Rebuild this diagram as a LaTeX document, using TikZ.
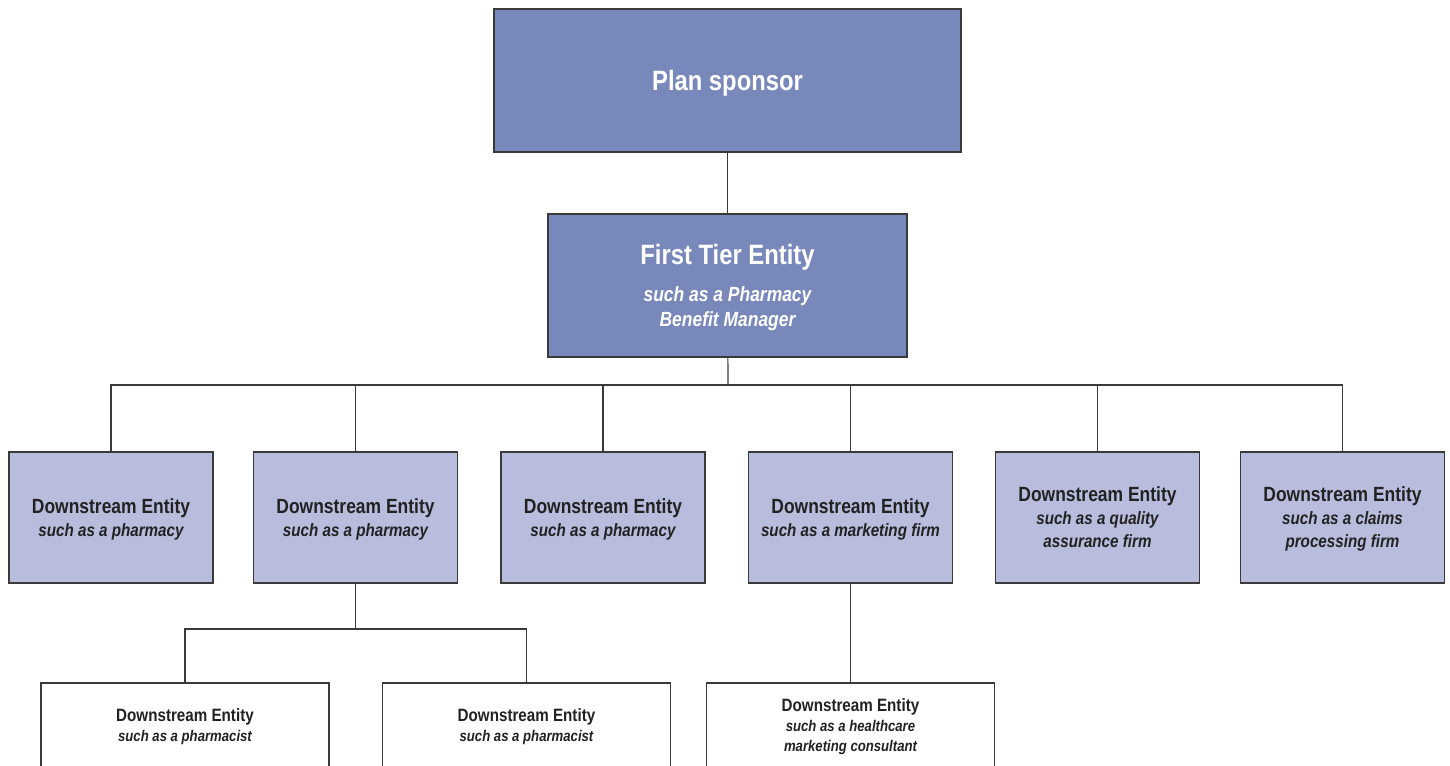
\documentclass[tikz,border=0pt]{standalone}
\usepackage{fontspec}
\setmainfont{Liberation Sans}[FakeStretch=0.85]
\usepackage{xcolor}
\usepackage{tikz}
\usetikzlibrary{positioning}

\definecolor{sponsorblue}{HTML}{7888BB}
\definecolor{entityblue}{HTML}{B8BCDD}
\definecolor{edgegray}{HTML}{3A3A3A}
\definecolor{ink}{HTML}{222222}

% subtitle lines
\newcommand{\pbm}[1]{{\fontsize{15.4}{18.75}\selectfont\bfseries\itshape #1}}
\newcommand{\eg}[1]{{\fontsize{13.4}{17.25}\selectfont\bfseries\itshape #1}}
\newcommand{\egs}[1]{{\fontsize{11.6}{15}\selectfont\bfseries\itshape #1}}

\begin{document}
\begin{tikzpicture}[
  x=0.75pt, y=-0.75pt,
  box/.style   = {draw=edgegray, line width=0.9pt, align=center, inner sep=0pt},
  lead/.style  = {box, fill=sponsorblue, text=white, minimum height=107.25pt,
                  text depth=0pt, font=\bfseries\fontsize{21}{18.75}\selectfont},
  tier/.style  = {box, fill=entityblue, text=ink, minimum width=153pt, text depth=0pt,
                  minimum height=98.25pt, font=\bfseries\fontsize{15.4}{17.25}\selectfont},
  leaf/.style  = {box, fill=white, text=ink, minimum width=216pt,
                  minimum height=66pt, font=\bfseries\fontsize{13.4}{15}\selectfont},
  link/.style  = {draw=edgegray, line width=0.9pt}
]

\useasboundingbox (0,0) rectangle (1450,766);
\clip (0,0) rectangle (1450,766);

\node[lead, minimum width=350.25pt] (sponsor) at (727.5,80.5) {Plan sponsor};
\node[lead, minimum width=269.25pt] (first) at (727.5,285.5)
  {First Tier Entity\\[8.6pt]\pbm{such as a Pharmacy}\\\pbm{Benefit Manager}};

\draw[link] (sponsor) -- (first);

% downstream row
\node[tier] (ds1) at (111,517.5)    {Downstream Entity\\\eg{such as a pharmacy}};
\node[tier] (ds2) at (355.5,517.5)  {Downstream Entity\\\eg{such as a pharmacy}};
\node[tier] (ds3) at (603,517.5)    {Downstream Entity\\\eg{such as a pharmacy}};
\node[tier] (ds4) at (850.5,517.5)  {Downstream Entity\\\eg{such as a marketing firm}};
\node[tier] (ds5) at (1097.5,517.5) {Downstream Entity\\\eg{such as a quality}\\\eg{assurance firm}};
\node[tier] (ds6) at (1342.5,517.5) {Downstream Entity\\\eg{such as a claims}\\\eg{processing firm}};

\coordinate (bus) at (728,385);
\draw[link] (first) -- (bus);
\draw[link] (bus) -| (ds1.north);
\draw[link] (bus) -| (ds2.north);
\draw[link] (bus) -| (ds3.north);
\draw[link] (bus) -| (ds4.north);
\draw[link] (bus) -| (ds5.north);
\draw[link] (bus) -| (ds6.north);

% lower tier
\node[leaf] (ph1) at (185,727)   {Downstream Entity\\\egs{such as a pharmacist}};
\node[leaf] (ph2) at (526.5,727) {Downstream Entity\\\egs{such as a pharmacist}};
\node[leaf] (mkt) at (850.5,727) {Downstream Entity\\\egs{such as a healthcare}\\\egs{marketing consultant}};

\coordinate (split) at (355.5,629);
\draw[link] (ds2) -- (split);
\draw[link] (split) -| (ph1.north);
\draw[link] (split) -| (ph2.north);
\draw[link] (ds4) -- (mkt);

\end{tikzpicture}
\end{document}
